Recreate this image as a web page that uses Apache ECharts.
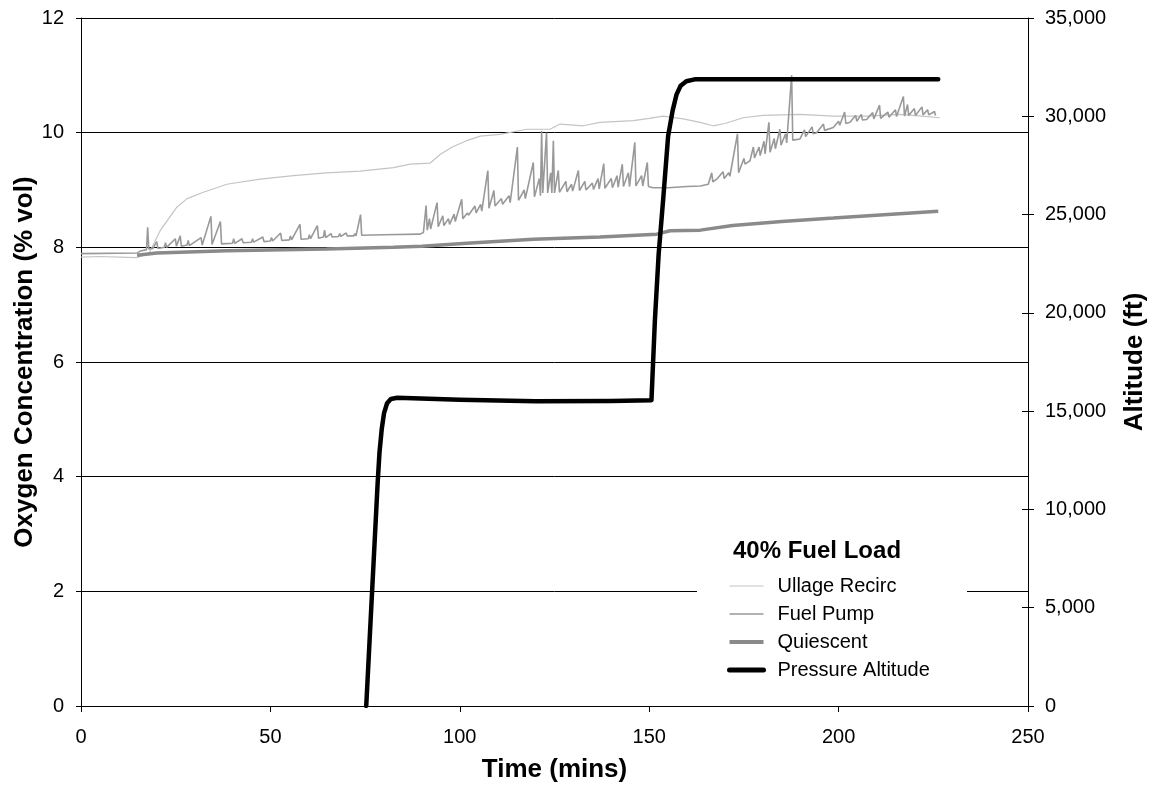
<!DOCTYPE html>
<html>
<head>
<meta charset="utf-8">
<script src="https://cdn.jsdelivr.net/npm/echarts@6/dist/echarts.min.js"></script>
<style>
  html, body { margin: 0; padding: 0; background: #fff; }
  #main { width: 1151px; height: 785px; }
</style>
</head>
<body>
<div id="main"></div>
<script>
// time in minutes, oxygen in % vol, altitude in ft
var ullageTime = [0, 5, 10, 14.7, 18, 20.9, 25.3, 28, 32.3, 38.5, 47.3, 56.1, 64.8, 73.7, 82.5, 86.9, 92.2, 94.8, 98, 101.8, 105.4, 110.6, 117.7, 123.8, 126.5, 132.6, 137, 145.8, 150, 153.7, 159, 163.4, 166.9, 170, 174.8, 180, 189.8, 198.6, 207.4, 216.2, 222, 226.7];
var ullageO2 = [7.83, 7.84, 7.83, 7.82, 7.9, 8.29, 8.7, 8.85, 8.96, 9.1, 9.19, 9.25, 9.3, 9.33, 9.39, 9.45, 9.47, 9.62, 9.75, 9.86, 9.94, 9.97, 10.06, 10.06, 10.15, 10.12, 10.18, 10.21, 10.25, 10.29, 10.24, 10.18, 10.12, 10.16, 10.26, 10.3, 10.32, 10.29, 10.29, 10.32, 10.29, 10.26];

var pumpTime = [0, 14.8, 15.5, 17.3, 17.6, 17.9, 19, 20, 20.3, 22, 22.3, 22.6, 24.9, 25.2, 26.2, 26.5, 28, 28.3, 28.6, 31.7, 32, 34.3, 34.6, 36.8, 37.1, 40, 40.3, 40.6, 42.5, 42.8, 45, 45.3, 45.6, 48, 48.3, 50, 50.3, 50.6, 52.7, 53, 55, 55.3, 55.6, 57.8, 58.1, 60, 60.3, 60.6, 62.4, 62.7, 64, 64.3, 64.6, 66, 66.3, 68, 68.3, 68.6, 70, 70.3, 72, 72.3, 72.6, 73.8, 74.1, 80, 89.5,
  90.4, 91.1, 91.4, 92, 92.3, 94, 94.3, 95.5, 95.8, 97, 97.3, 98.5, 98.8, 100.5, 100.8, 102, 102.3, 104, 104.3, 105.5, 105.8, 107.4, 107.7, 109, 109.3, 111, 111.3, 113, 113.3, 115.2, 115.5, 117, 117.3, 119.4, 119.7, 121, 121.3, 121.6, 121.9, 122.9, 123.2, 124, 124.3, 124.7, 125, 126, 126.3, 128, 128.3, 129.5, 129.8, 131.3, 131.6, 133, 133.3, 135, 135.3, 136.5, 136.8, 138, 138.3, 140, 140.3, 141.5, 141.8, 142.9, 143.2, 144.5, 144.8, 146.2, 146.5, 148, 148.3, 149.5, 149.8, 151, 155, 160, 163.5,
  165.6, 166.5, 166.8, 168, 168.3, 169.5, 169.8, 171, 171.3, 173.3, 173.6, 175, 175.3, 176.6, 177.5, 177.8, 179, 179.3, 180.3, 180.6, 181.6, 181.9, 183, 183.3, 184.5, 184.8, 186, 186.3, 187.6, 187.9, 189.8, 191, 191.3, 193, 193.3, 194.2, 196, 196.3, 198.6, 200, 200.3, 201.6, 201.9, 203, 204.5, 204.8, 206, 206.3, 207.4, 209, 209.3, 210.8, 211.1, 213, 213.3, 215, 215.3, 217.1, 217.4, 218.2, 218.5, 220, 220.3, 222, 222.3, 223.5, 223.8, 225.3, 225.6];
var pumpO2 = [7.89, 7.9, 7.93, 7.96, 8.35, 7.97, 7.98, 8.1, 7.98, 8.0, 8.08, 8.0, 8.15, 8.02, 8.2, 8.02, 8.04, 8.12, 8.03, 8.17, 8.04, 8.54, 8.05, 8.45, 8.06, 8.07, 8.15, 8.07, 8.15, 8.08, 8.09, 8.15, 8.09, 8.18, 8.1, 8.11, 8.17, 8.11, 8.25, 8.12, 8.13, 8.2, 8.13, 8.4, 8.14, 8.15, 8.22, 8.15, 8.38, 8.16, 8.18, 8.3, 8.17, 8.24, 8.18, 8.19, 8.24, 8.19, 8.25, 8.2, 8.2, 8.24, 8.2, 8.57, 8.21, 8.22, 8.23,
  8.26, 8.73, 8.3, 8.5, 8.32, 8.78, 8.36, 8.55, 8.38, 8.5, 8.4, 8.58, 8.45, 8.84, 8.5, 8.6, 8.56, 8.72, 8.6, 8.75, 8.63, 9.34, 8.68, 8.99, 8.72, 8.85, 8.75, 8.9, 8.78, 9.75, 8.82, 9.0, 8.85, 9.48, 8.88, 9.2, 8.9, 10.03, 8.95, 10.0, 8.95, 9.3, 8.95, 9.86, 8.95, 9.34, 8.96, 9.15, 8.97, 9.1, 8.98, 9.34, 8.99, 9.15, 9.0, 9.12, 9.01, 9.2, 9.02, 9.46, 9.03, 9.2, 9.04, 9.25, 9.05, 9.45, 9.06, 9.3, 9.06, 9.83, 9.07, 9.25, 9.07, 9.48, 9.06, 9.04, 9.04, 9.06, 9.07,
  9.1, 9.3, 9.14, 9.2, 9.17, 9.32, 9.2, 9.3, 9.24, 9.98, 9.3, 9.55, 9.45, 9.51, 9.75, 9.56, 9.75, 9.6, 9.85, 9.63, 10.18, 9.66, 9.9, 9.72, 10.06, 9.78, 9.98, 9.82, 11.0, 9.87, 9.89, 10.05, 9.93, 10.1, 9.98, 10.0, 10.15, 10.04, 10.09, 10.2, 10.13, 10.36, 10.16, 10.18, 10.3, 10.2, 10.32, 10.22, 10.23, 10.35, 10.24, 10.48, 10.25, 10.36, 10.27, 10.4, 10.28, 10.63, 10.29, 10.49, 10.3, 10.42, 10.3, 10.45, 10.31, 10.4, 10.31, 10.37, 10.3];

var quietTime = [14.8, 20, 38.5, 64.8, 82.5, 90, 101.8, 119.4, 137, 152, 155.5, 163.5, 172, 185, 198.6, 212, 226.3];
var quietO2 = [7.86, 7.9, 7.94, 7.97, 8.0, 8.02, 8.07, 8.14, 8.18, 8.23, 8.29, 8.3, 8.38, 8.45, 8.51, 8.57, 8.63];

var altTime = [75.3, 78.3, 78.8, 79.4, 80.0, 80.8, 81.8, 83.5, 100, 120, 140, 150.6, 151.5, 152.5, 153.7, 155, 156.2, 157.2, 158.3, 159.8, 162, 190, 226.3];
var altFt = [0, 11300, 12900, 14100, 14900, 15400, 15620, 15680, 15580, 15500, 15520, 15560, 19600, 23000, 25800, 29000, 30300, 31100, 31550, 31780, 31880, 31880, 31880];

var xTicks = { min: 0, max: 250, step: 50 };
var o2Ticks = { min: 0, max: 12, step: 2 };
var altTicks = { min: 0, max: 35000, step: 5000 };

function pairs(t, v) {
  return t.map(function (x, i) { return [x, v[i]]; });
}

var font = "'Liberation Sans', Arial, sans-serif";
var chart = echarts.init(document.getElementById('main'));
var option;

option = {
  animation: false,
  backgroundColor: '#fff',
  textStyle: { fontFamily: font },
  grid: { left: 81, right: 123, top: 18, bottom: 79, outerBoundsMode: 'none', containLabel: false },
  xAxis: {
    type: 'value',
    min: xTicks.min,
    max: xTicks.max,
    interval: xTicks.step,
    name: 'Time (mins)',
    nameLocation: 'middle',
    nameGap: 51,
    nameMoveOverlap: false,
    nameTextStyle: { fontSize: 26, fontWeight: 'bold', color: '#000', fontFamily: font },
    axisLine: { lineStyle: { color: '#000', width: 1 } },
    axisTick: { length: 6, lineStyle: { color: '#000' } },
    axisLabel: { fontSize: 20, color: '#000', margin: 21, fontFamily: font },
    splitLine: { show: false }
  },
  yAxis: [
    {
      type: 'value',
      min: o2Ticks.min,
      max: o2Ticks.max,
      interval: o2Ticks.step,
      name: 'Oxygen Concentration (% vol)',
      nameLocation: 'middle',
      nameRotate: 90,
      nameGap: 43,
      nameMoveOverlap: false,
      nameTextStyle: { fontSize: 26, fontWeight: 'bold', color: '#000', fontFamily: font },
      axisLine: { show: true, lineStyle: { color: '#000', width: 1 } },
      axisTick: { show: true, length: 5, lineStyle: { color: '#000' } },
      axisLabel: { fontSize: 20, color: '#000', margin: 17, fontFamily: font },
      splitLine: { show: true, lineStyle: { color: '#000', width: 1 } }
    },
    {
      type: 'value',
      position: 'right',
      min: altTicks.min,
      max: altTicks.max,
      interval: altTicks.step,
      name: 'Altitude (ft)',
      nameLocation: 'middle',
      nameRotate: 90,
      nameGap: 94,
      nameMoveOverlap: false,
      nameTextStyle: { fontSize: 26, fontWeight: 'bold', color: '#000', fontFamily: font },
      axisLine: { show: true, lineStyle: { color: '#000', width: 1 } },
      axisTick: { show: true, length: 6, lineStyle: { color: '#000' } },
      axisLabel: {
        fontSize: 20, color: '#000', margin: 17, fontFamily: font,
        formatter: function (v) { return String(v).replace(/\B(?=(\d{3})+(?!\d))/g, ','); }
      },
      splitLine: { show: false }
    },
    {
      // inner half of the crossing ticks on the right axis
      type: 'value',
      position: 'right',
      min: altTicks.min,
      max: altTicks.max,
      interval: altTicks.step,
      axisLine: { show: false },
      axisTick: { show: true, inside: true, length: 6, lineStyle: { color: '#000' } },
      axisLabel: { show: false },
      splitLine: { show: false }
    }
  ],
  legend: {
    orient: 'vertical',
    left: 727,
    top: 576,
    padding: 0,
    itemWidth: 34,
    itemHeight: 14,
    itemGap: 8,
    z: 10,
    itemStyle: { opacity: 0 },
    data: [
      { name: 'Ullage Recirc', lineStyle: { width: 1.2, color: '#c4c4c4' } },
      { name: 'Fuel Pump', lineStyle: { width: 1.6, color: '#999999' } },
      { name: 'Quiescent', lineStyle: { width: 4, color: '#8a8a8a' } },
      { name: 'Pressure Altitude', lineStyle: { width: 5, color: '#000' } }
    ],
    textStyle: { fontSize: 20, color: '#000', lineHeight: 20, fontFamily: font, padding: [0, 0, 0, 9] }
  },
  graphic: [
    {
      type: 'rect',
      z: 3,
      shape: { x: 697, y: 528, width: 270, height: 166 },
      style: { fill: '#fff' }
    },
    {
      type: 'text',
      z: 10,
      left: 733,
      top: 539,
      style: { text: '40% Fuel Load', fontSize: 24, fontWeight: 'bold', fill: '#000', fontFamily: font }
    }
  ],
  series: [
    {
      name: 'Ullage Recirc',
      type: 'line',
      yAxisIndex: 0,
      symbol: 'none',
      color: '#c4c4c4',
      lineStyle: { color: '#c4c4c4', width: 1.2 },
      data: pairs(ullageTime, ullageO2)
    },
    {
      name: 'Fuel Pump',
      type: 'line',
      yAxisIndex: 0,
      symbol: 'none',
      color: '#999999',
      lineStyle: { color: '#999999', width: 1.6 },
      data: pairs(pumpTime, pumpO2)
    },
    {
      name: 'Quiescent',
      type: 'line',
      yAxisIndex: 0,
      symbol: 'none',
      color: '#8a8a8a',
      lineStyle: { color: '#8a8a8a', width: 3.5 },
      data: pairs(quietTime, quietO2)
    },
    {
      name: 'Pressure Altitude',
      type: 'line',
      yAxisIndex: 1,
      symbol: 'none',
      color: '#000',
      lineStyle: { color: '#000', width: 4.5, join: 'round', cap: 'round' },
      data: pairs(altTime, altFt)
    }
  ]
};

option && chart.setOption(option);
</script>
</body>
</html>
